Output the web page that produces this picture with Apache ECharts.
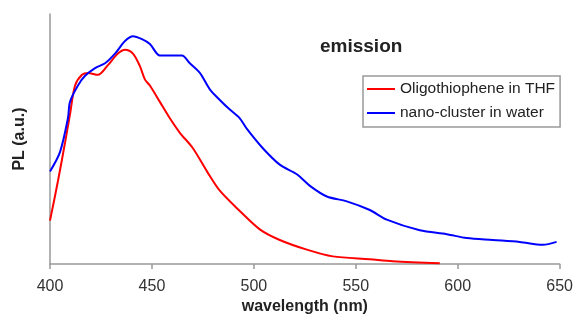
<!DOCTYPE html>
<html>
<head>
<meta charset="utf-8">
<script src="https://cdn.jsdelivr.net/npm/echarts@6/dist/echarts.min.js"></script>
<style>
html,body{margin:0;padding:0;background:#fff;}
#chart{width:576px;height:320px;}
</style>
</head>
<body>
<div id="chart"></div>
<script>
var xTicks = [400, 450, 500, 550, 600, 650];
var seriesNames = ['Oligothiophene in THF', 'nano-cluster in water'];

var thfWavelength = [400, 403.9, 407.4, 409.8, 412.3, 415.7, 418.6, 423.5, 428.4, 433.3, 436.8, 440.7, 444.1, 446.6, 449, 453.9, 458.8, 463.7, 470.1, 477, 483.3, 493.1, 502.9, 512.7, 526, 538.7, 556.9, 568.1, 591.2];
var thfPL = [45, 86, 126, 155, 185, 196, 198, 196, 206, 218, 222, 218, 205, 191, 185, 168, 151, 136, 120, 96, 76, 55, 36, 25, 15, 8, 5, 3, 1];

var waterWavelength = [400, 404.9, 408.8, 409.8, 413.7, 417.2, 422.1, 427, 431.9, 436.8, 440.7, 445.1, 449, 453.9, 458.8, 464.7, 468.6, 473.5, 478.4, 483.3, 488.2, 493.1, 496.6, 504.4, 512.7, 521.1, 527.5, 535.8, 545.6, 556.9, 565.2, 581.4, 594.6, 604.4, 617.2, 630.4, 641.7, 648.5];
var waterPL = [96, 116, 151, 168, 185, 195, 203, 208, 218, 231, 236, 233, 228, 216, 216, 216, 208, 198, 181, 170, 160, 151, 140, 120, 103, 93, 81, 70, 65, 56, 46, 35, 31, 27, 25, 23, 20, 23];

function pairs(xs, ys) {
  return xs.map(function (x, i) { return [x, ys[i]]; });
}

var FONT = '"Liberation Sans", Arial, sans-serif';
var chart = echarts.init(document.getElementById('chart'), null, {renderer: 'canvas'});
chart.setOption({
  animation: false,
  backgroundColor: '#fff',
  title: {
    text: 'emission',
    left: 320, top: 37, padding: 0,
    textStyle: {fontFamily: FONT, fontSize: 19, fontWeight: 'bold', color: '#222'}
  },
  legend: {
    orient: 'vertical',
    left: 363, top: 76,
    padding: [5, 5, 6, 4],
    itemGap: 8,
    itemWidth: 28,
    itemHeight: 16,
    icon: 'path://M0,7 L28,7 L28,9 L0,9 Z',
    borderColor: '#999',
    borderWidth: 1.5,
    textStyle: {fontFamily: FONT, fontSize: 15.5, color: '#222'},
    data: seriesNames
  },
  grid: {left: 50, right: 16, top: 14, bottom: 47, containLabel: false},
  xAxis: {
    type: 'value',
    min: xTicks[0], max: xTicks[xTicks.length - 1], interval: 50,
    name: 'wavelength (nm)',
    nameLocation: 'middle',
    nameGap: 31,
    nameTextStyle: {fontFamily: FONT, fontSize: 16, fontWeight: 'bold', color: '#222'},
    axisLine: {lineStyle: {color: '#999', width: 1.5}},
    axisTick: {show: true, length: 5, lineStyle: {color: '#999', width: 1.5}},
    axisLabel: {fontFamily: FONT, fontSize: 16, color: '#333', margin: 14},
    splitLine: {show: false}
  },
  yAxis: {
    type: 'value',
    min: 0, max: 259,
    name: 'PL (a.u.)',
    nameLocation: 'middle',
    nameGap: 22,
    nameRotate: 90,
    nameTextStyle: {fontFamily: FONT, fontSize: 16, fontWeight: 'bold', color: '#222'},
    axisLine: {show: true, lineStyle: {color: '#999', width: 1.5}},
    axisTick: {show: false},
    axisLabel: {show: false},
    splitLine: {show: false}
  },
  series: [
    {
      name: seriesNames[0], type: 'line', smooth: 0.3, symbol: 'none',
      lineStyle: {color: '#ff0000', width: 2}, itemStyle: {color: '#ff0000'},
      data: pairs(thfWavelength, thfPL)
    },
    {
      name: seriesNames[1], type: 'line', smooth: 0.3, symbol: 'none',
      lineStyle: {color: '#0000ff', width: 2}, itemStyle: {color: '#0000ff'},
      data: pairs(waterWavelength, waterPL)
    }
  ]
});
</script>
</body>
</html>
